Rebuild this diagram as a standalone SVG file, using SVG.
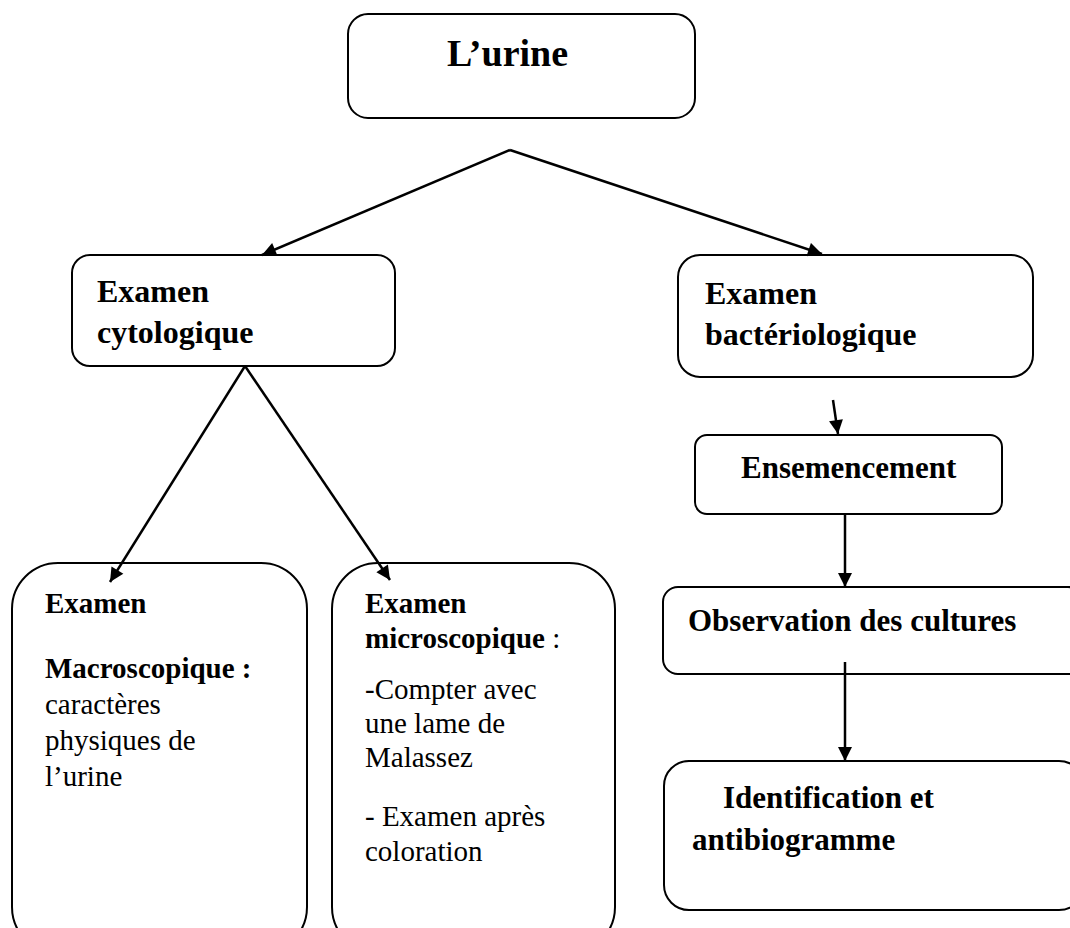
<svg xmlns="http://www.w3.org/2000/svg" width="1070" height="928" viewBox="0 0 1070 928">
<style>
.box{fill:#fff;stroke:#000;stroke-width:2}
.b{font-family:"Liberation Serif","Times New Roman",serif;font-weight:bold;fill:#000}
.r{font-family:"Liberation Serif","Times New Roman",serif;fill:#000}
.con{stroke:#000;stroke-width:2.5;fill:none}
</style>
<defs>
<marker id="ah" viewBox="0 0 10 10" refX="10" refY="5" markerWidth="16" markerHeight="14" markerUnits="userSpaceOnUse" orient="auto">
<path d="M0,0 L10,5 L0,10 Z" fill="#000"/>
</marker>
</defs>
<rect width="1070" height="928" fill="#fff"/>
<g id="urine">
<rect class="box" x="348" y="14" width="347" height="104" rx="20"/>
<text class="b" x="447" y="66" font-size="38">L’urine</text>
</g>
<g id="cytologique">
<rect class="box" x="72" y="255" width="323" height="111" rx="18"/>
<text class="b" x="97" y="302" font-size="32">Examen</text>
<text class="b" x="97" y="343" font-size="32">cytologique</text>
</g>
<g id="bacteriologique">
<rect class="box" x="678" y="255" width="355" height="122" rx="22"/>
<text class="b" x="705" y="304" font-size="32">Examen</text>
<text class="b" x="705" y="345" font-size="32">bactériologique</text>
</g>
<g id="macroscopique">
<rect class="box" x="12" y="563" width="295" height="390" rx="46"/>
<text class="b" x="45" y="613" font-size="29">Examen</text>
<text class="b" x="45" y="678" font-size="29">Macroscopique :</text>
<text class="r" x="45" y="714" font-size="29">caractères</text>
<text class="r" x="45" y="750" font-size="29">physiques de</text>
<text class="r" x="45" y="786" font-size="29">l’urine</text>
</g>
<g id="microscopique">
<rect class="box" x="332" y="563" width="283" height="390" rx="46"/>
<text class="b" x="365" y="613" font-size="29">Examen</text>
<text x="365" y="648" font-size="29"><tspan class="b">microscopique</tspan><tspan class="r"> :</tspan></text>
<text class="r" x="365" y="699" font-size="29">-Compter avec</text>
<text class="r" x="365" y="733" font-size="29">une lame de</text>
<text class="r" x="365" y="767" font-size="29">Malassez</text>
<text class="r" x="365" y="826" font-size="29">- Examen après</text>
<text class="r" x="365" y="861" font-size="29">coloration</text>
</g>
<g id="ensemencement">
<rect class="box" x="695" y="435" width="307" height="79" rx="12"/>
<text class="b" x="741" y="478" font-size="31">Ensemencement</text>
</g>
<g id="observation">
<rect class="box" x="663" y="587" width="420" height="87" rx="15"/>
<text class="b" x="688" y="631" font-size="31">Observation des cultures</text>
</g>
<g id="identification">
<rect class="box" x="664" y="761" width="420" height="149" rx="25"/>
<text class="b" x="723" y="808" font-size="31">Identification et</text>
<text class="b" x="692" y="850" font-size="31">antibiogramme</text>
</g>
<g id="connectors">
<line class="con" x1="510" y1="150" x2="262" y2="255" marker-end="url(#ah)"/>
<line class="con" x1="510" y1="150" x2="822" y2="254" marker-end="url(#ah)"/>
<line class="con" x1="245" y1="366" x2="110" y2="582" marker-end="url(#ah)"/>
<line class="con" x1="245" y1="366" x2="390" y2="580" marker-end="url(#ah)"/>
<line class="con" x1="833" y1="400" x2="838" y2="434" marker-end="url(#ah)"/>
<line class="con" x1="845" y1="513" x2="845" y2="587" marker-end="url(#ah)"/>
<line class="con" x1="845" y1="662" x2="845" y2="761" marker-end="url(#ah)"/>
</g>
</svg>
